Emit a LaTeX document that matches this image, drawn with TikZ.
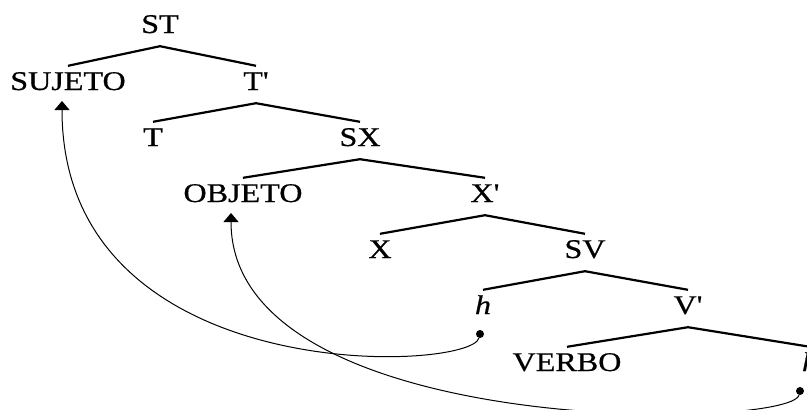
\documentclass[tikz,border=0pt]{standalone}
\usepackage{fontspec}
\newfontfamily\tf{Liberation Serif}[FakeStretch=1.19,FakeBold=0.6]
\usetikzlibrary{arrows.meta}
\begin{document}
\begin{tikzpicture}[x=1pt,y=-1pt,
  lab/.style={font=\tf\fontsize{27}{30}\selectfont, inner sep=0pt, text height=24pt, text depth=13pt, anchor=base},
  br/.style={line width=2.2pt},
  mv/.style={line width=1pt, -{Triangle[width=15pt,length=9pt]}},
  dot/.style={circle, fill, inner sep=0pt, minimum size=8pt}]
\useasboundingbox (0,0) rectangle (807,410);
\node[lab] (ST) at (160,33) {ST};
\node[lab] (SUJETO) at (68,90) {SUJETO};
\node[lab] (Tp) at (256,90) {T'};
\node[lab] (T) at (153,146) {T};
\node[lab] (SX) at (360,146) {SX};
\node[lab] (OBJETO) at (243,202) {OBJETO};
\node[lab] (Xp) at (485,202) {X'};
\node[lab] (X) at (380,258) {X};
\node[lab] (SV) at (585,258) {SV};
\node[lab] (h1) at (483,314) {\itshape h};
\node[lab] (Vp) at (688,314) {V'};
\node[lab] (VERBO) at (567,371) {VERBO};
\node[lab] (h2) at (810,371) {\itshape h};
\foreach \p/\c in {ST/SUJETO,ST/Tp,Tp/T,Tp/SX,SX/OBJETO,SX/Xp,Xp/X,Xp/SV,SV/h1,SV/Vp,Vp/VERBO,Vp/h2}
  \draw[br] (\p.south) -- (\c.north);
\node[dot] (d1) at (480,334) {};
\node[dot] (d2) at (800,391) {};
\coordinate (a1) at (62,101);
\coordinate (a2) at (231,213);
\draw[mv] (d1) .. controls (470,372) and (62,390) .. (a1);
\draw[mv] (d2) .. controls (790,430) and (231,440) .. (a2);
\end{tikzpicture}
\end{document}
